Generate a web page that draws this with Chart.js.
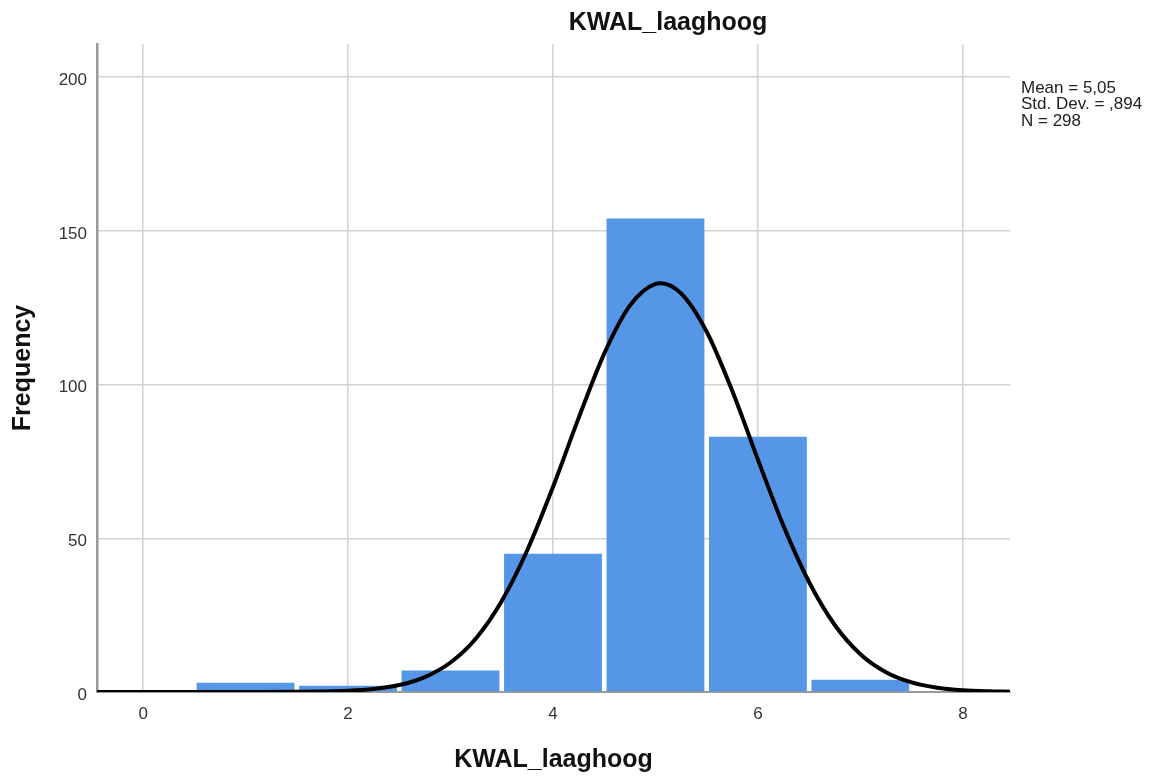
<!DOCTYPE html>
<html>
<head>
<meta charset="utf-8">
<script src="https://cdn.jsdelivr.net/npm/chart.js@4/dist/chart.umd.min.js"></script>
<style>
  html, body { margin: 0; padding: 0; background: #ffffff; }
  #wrap { width: 1155px; height: 778px; }
</style>
</head>
<body>
<div id="wrap"><canvas id="hist" width="1155" height="778"></canvas></div>
<script>
// Histogram of KWAL_laaghoog: bin centres and frequencies
const binCenters = [1, 2, 3, 4, 5, 6, 7];
const binCounts  = [3, 2, 7, 45, 154, 83, 4];

// Fitted normal curve (Mean 5,05, SD ,894, N 298), sampled along the x range
const curveX = [-0.45, 0, 0.5, 1, 1.5, 1.75, 2, 2.25, 2.5, 2.75, 3, 3.25, 3.5, 3.75,
                4, 4.25, 4.5, 4.75, 5, 5.05, 5.25, 5.5, 5.75, 6, 6.25, 6.5, 6.75,
                7, 7.25, 7.5, 7.75, 8, 8.25, 8.46];
const curveY = [0, 0, 0, 0.01, 0.05, 0.15, 0.39, 0.98, 2.28, 4.86, 9.59, 17.5, 29.6, 46.2,
                66.7, 89.1, 110.1, 125.7, 132.8, 133.0, 129.7, 117.2, 97.9, 75.6, 54.0, 35.7, 21.8,
                12.3, 6.44, 3.11, 1.39, 0.57, 0.22, 0.09];

// Axis ticks
const xTicks = [0, 2, 4, 6, 8];
const yTicks = [0, 50, 100, 150, 200];

// Texts
const chartTitle = 'KWAL_laaghoog';
const xTitle = 'KWAL_laaghoog';
const yTitle = 'Frequency';
const statLines = ['Mean = 5,05', 'Std. Dev. = ,894', 'N = 298'];

const FONT = '"Liberation Sans", Arial, sans-serif';

// Title and summary statistics drawn beside the plot
const annotations = {
  id: 'annotations',
  afterDraw(chart) {
    const ctx = chart.ctx;
    ctx.save();
    ctx.fillStyle = '#111111';
    ctx.font = 'bold 25px ' + FONT;
    ctx.textAlign = 'center';
    ctx.textBaseline = 'middle';
    ctx.fillText(chartTitle, 668, 23);

    ctx.fillStyle = '#222222';
    ctx.font = '17px ' + FONT;
    ctx.textAlign = 'left';
    statLines.forEach((line, i) => {
      ctx.fillText(line, chart.chartArea.right + 11, 88 + i * 16.5);
    });
    ctx.restore();
  }
};

new Chart(document.getElementById('hist'), {
  type: 'bar',
  data: {
    datasets: [
      {
        type: 'line',
        order: 1,
        data: curveX.map((x, i) => ({ x: x, y: curveY[i] })),
        borderColor: '#000000',
        borderWidth: 4,
        pointRadius: 0,
        fill: false,
        cubicInterpolationMode: 'monotone'
      },
      {
        type: 'bar',
        order: 2,
        data: binCenters.map((x, i) => ({ x: x, y: binCounts[i] })),
        backgroundColor: '#5596e6',
        borderWidth: 0,
        barPercentage: 0.955,
        categoryPercentage: 1
      }
    ]
  },
  options: {
    responsive: false,
    animation: false,
    events: [],
    layout: { padding: { top: 44, right: 145, left: 0, bottom: 0 } },
    plugins: {
      legend: { display: false },
      tooltip: { enabled: false },
      title: { display: false }
    },
    scales: {
      x: {
        type: 'linear',
        min: -0.45,
        max: 8.46,
        offset: false,
        afterBuildTicks(scale) { scale.ticks = xTicks.map(v => ({ value: v })); },
        afterFit(scale) { scale.height = 86; },
        grid: { color: '#d2d2d2', lineWidth: 1.5, drawTicks: false, offset: false },
        border: { color: '#999999', width: 2 },
        ticks: {
          padding: 12,
          color: '#333333',
          font: { family: FONT, size: 17 },
          maxRotation: 0
        },
        title: {
          display: true,
          text: xTitle,
          color: '#111111',
          font: { family: FONT, size: 25, weight: 'bold', lineHeight: 1.2 },
          padding: { top: 0, bottom: 3 }
        }
      },
      y: {
        type: 'linear',
        min: 0,
        max: 210.8,
        afterBuildTicks(scale) { scale.ticks = yTicks.map(v => ({ value: v })); },
        afterFit(scale) { scale.width = 97; },
        grid: { color: '#d2d2d2', lineWidth: 1.5, drawTicks: false },
        border: { color: '#999999', width: 2.5 },
        ticks: {
          padding: 10,
          labelOffset: 3,
          color: '#333333',
          font: { family: FONT, size: 17 }
        },
        title: {
          display: true,
          text: yTitle,
          color: '#111111',
          font: { family: FONT, size: 25, weight: 'bold', lineHeight: 1.2 },
          padding: { top: 8, bottom: 0 }
        }
      }
    }
  },
  plugins: [annotations]
});
</script>
</body>
</html>
